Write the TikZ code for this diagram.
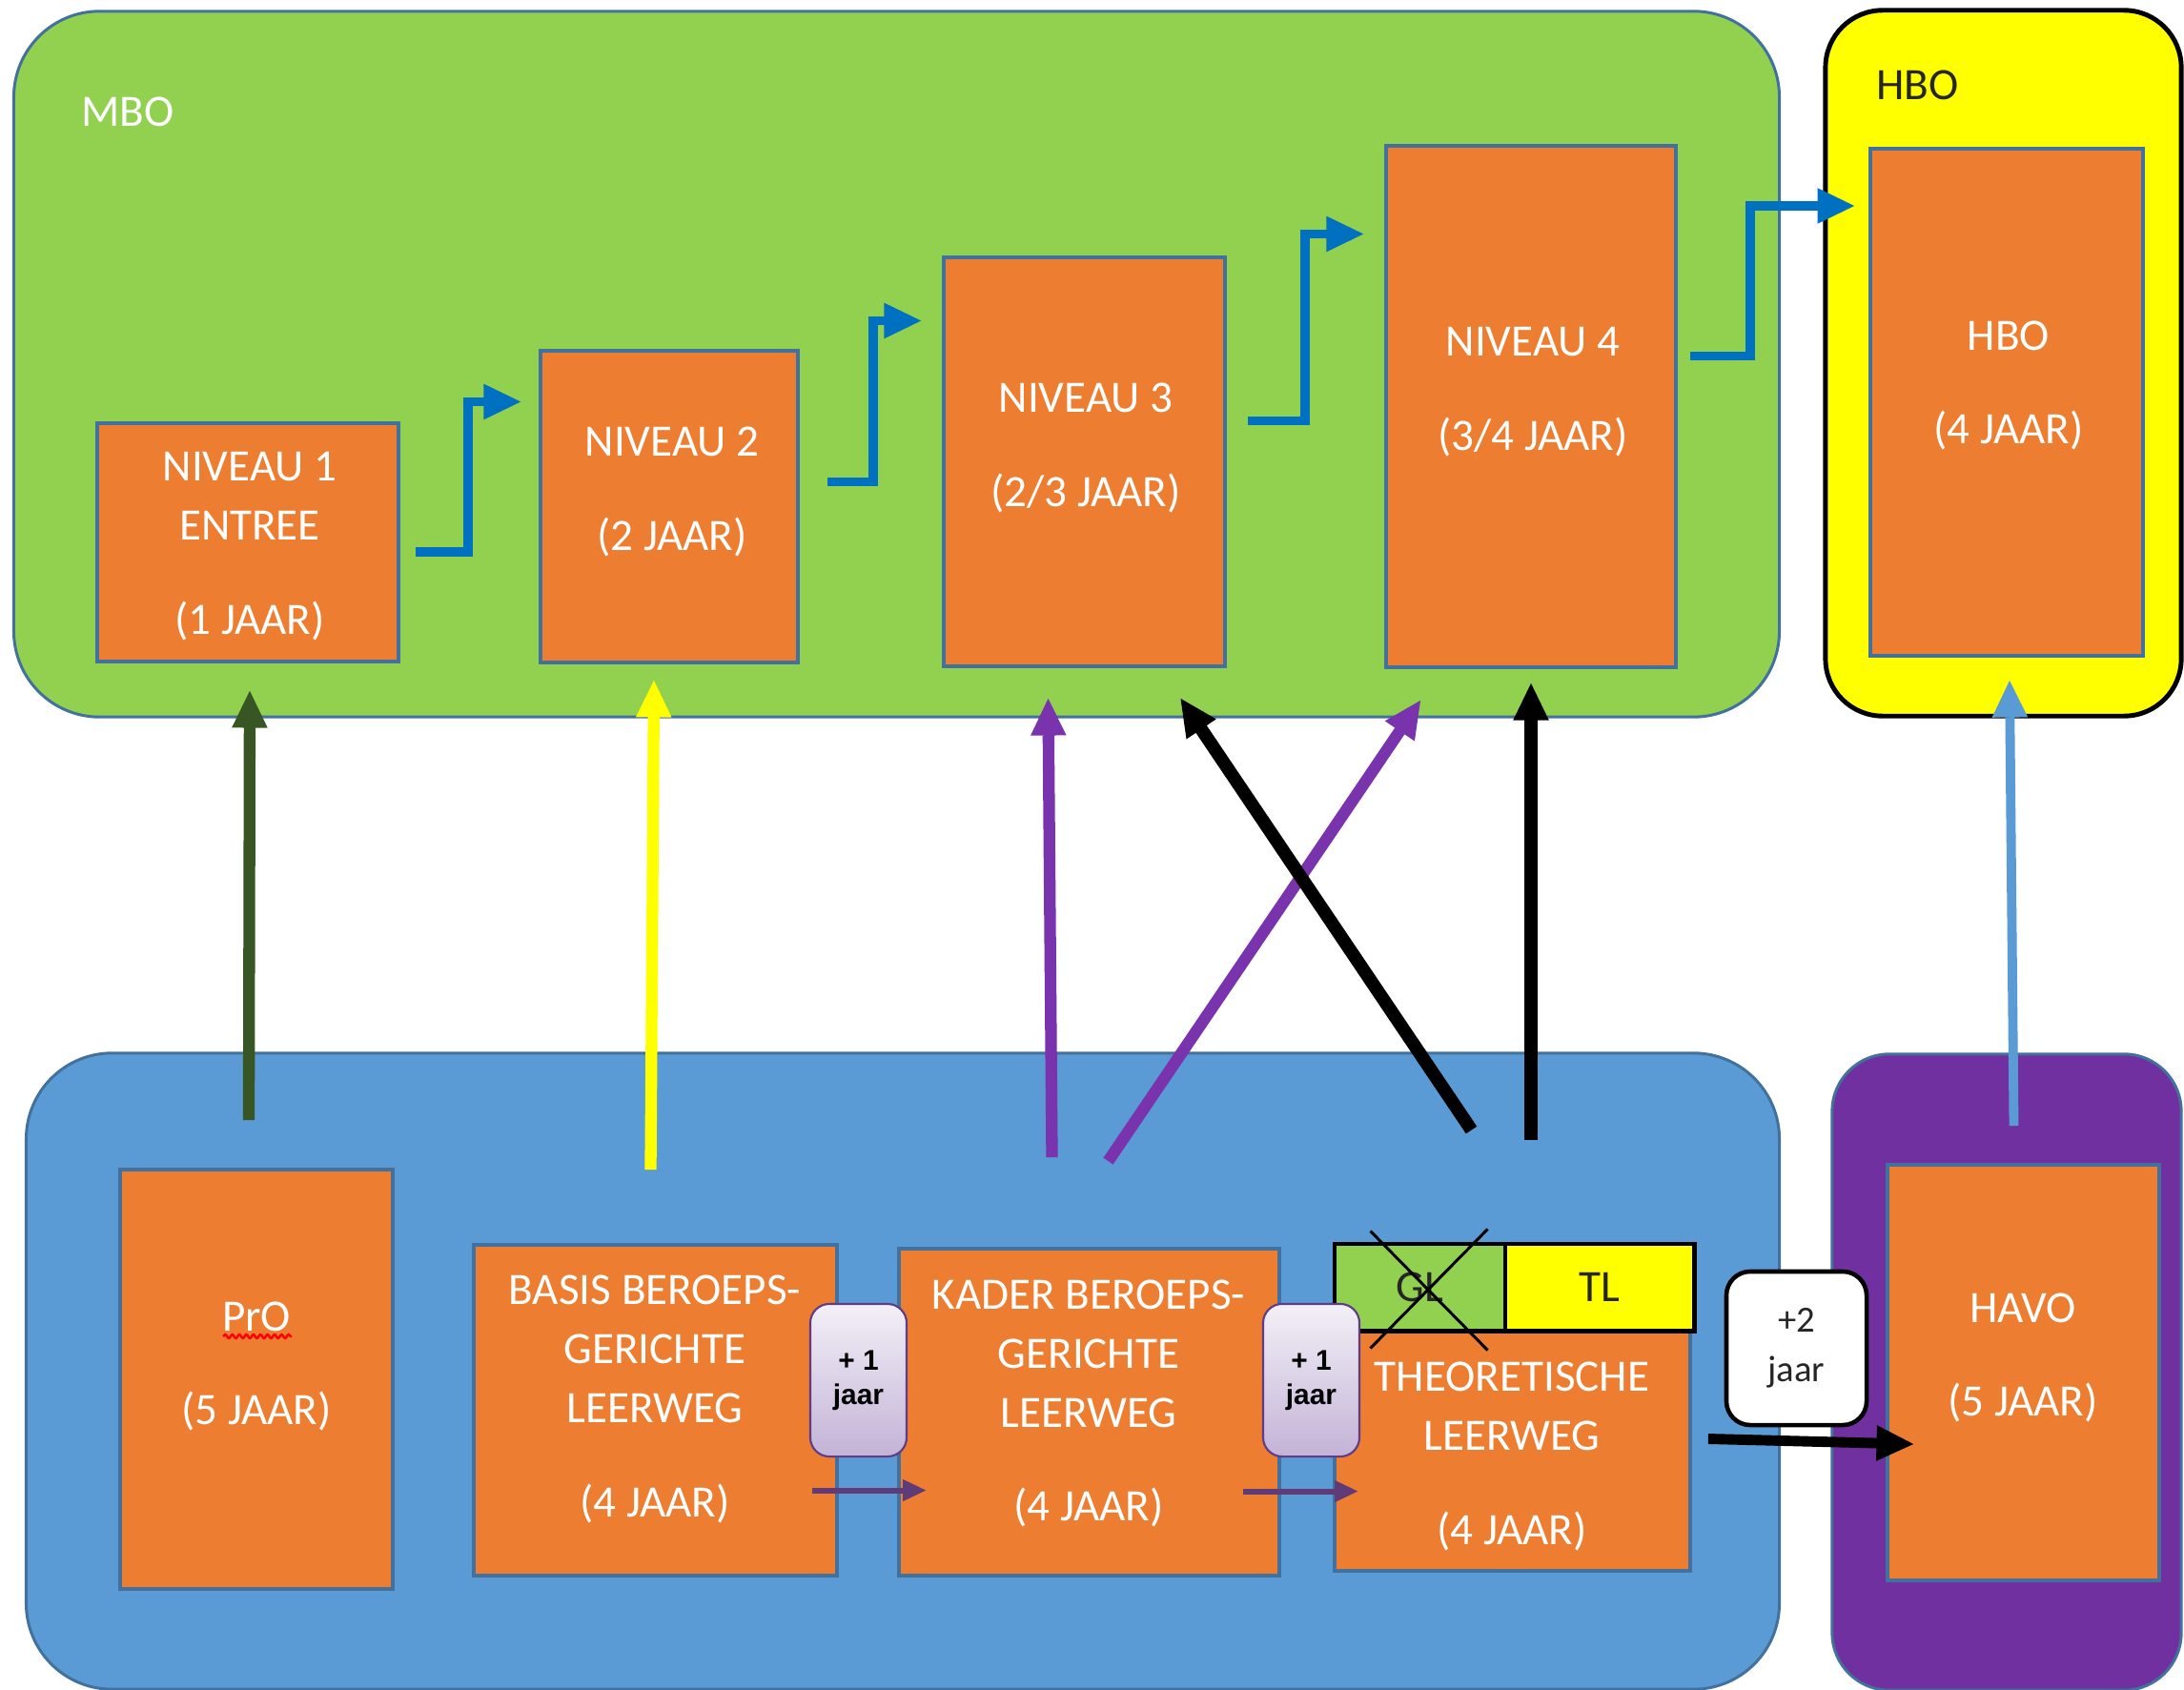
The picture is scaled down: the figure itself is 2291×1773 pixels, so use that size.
\documentclass[tikz,border=0pt]{standalone}
\usepackage{fontspec}
\setmainfont{Carlito}
\newfontfamily\arialfont{Liberation Sans}
\usetikzlibrary{arrows.meta, positioning, calc, decorations.pathmorphing}

\definecolor{mbogreen}{HTML}{92D050}
\definecolor{vmboblue}{HTML}{5B9BD5}
\definecolor{edgeblue}{HTML}{41719C}
\definecolor{boxorange}{HTML}{ED7D31}
\definecolor{hboyellow}{HTML}{FFFF00}
\definecolor{havopurple}{HTML}{7030A0}
\definecolor{stairblue}{HTML}{0070C0}
\definecolor{darkgreen}{HTML}{375623}
\definecolor{linkpurple}{HTML}{7833AD}
\definecolor{extrapurple}{HTML}{5F3B78}
\definecolor{tagtop}{HTML}{F3F0F7}
\definecolor{tagbottom}{HTML}{C3B3D7}
\definecolor{tagedge}{HTML}{5F3B88}
\definecolor{darktext}{HTML}{262626}

\tikzset{
    schooldiagram/.style={x=0.01cm, y=-0.01cm, font=\fontsize{13.4}{17.6}\selectfont},
    region/.style={draw=edgeblue, line width=0.85pt, rounded corners=0.9cm, inner sep=0pt},
    level/.style={draw=edgeblue, fill=boxorange, line width=1pt, inner sep=0pt},
    leveltext/.style={text=white, align=center, inner sep=0pt},
    tag/.style={inner sep=0pt, text=white},
    track/.style={draw=black, line width=1.4pt, inner sep=0pt, text=darktext},
    yearbox/.style={draw=tagedge, line width=0.6pt, rounded corners=0.2cm, top color=tagtop,
        bottom color=tagbottom, align=center, inner sep=0pt,
        font=\arialfont\bfseries\fontsize{8.5}{10.2}\selectfont},
    twoyear/.style={draw=black, fill=white, line width=1.3pt, rounded corners=0.25cm, align=center,
        inner sep=0pt, text=darktext, font=\fontsize{11}{14.7}\selectfont},
    % big arrow heads shared by all connectors between the two rows
    upto/.style={-{Triangle[length=11pt, width=10.6pt, line width=0.4pt]}},
    riser/.style={upto, line width=3.5pt},
    stair/.style={upto, draw=stairblue, line width=2.8pt},
    extra/.style={-{Triangle[length=6.8pt, width=6.5pt, line width=0.3pt]}, draw=extrapurple, line width=1.7pt},
    cross/.style={draw=black, line width=0.85pt},
    squiggle/.style={draw=red, line width=0.7pt, decorate,
        decoration={snake, amplitude=0.55pt, segment length=2.1pt}},
}

\begin{document}
\begin{tikzpicture}[schooldiagram]
    \useasboundingbox (0,0) rectangle (2291,1773);

    \node[region, fill=mbogreen, minimum width=18.51cm, minimum height=7.40cm] (mbo) at (940.5,382) {};
    \node[region, fill=hboyellow, draw=black, line width=1.4pt, rounded corners=0.6cm,
        minimum width=3.73cm, minimum height=7.40cm] (hbo) at (2101.5,381) {};
    \node[region, fill=vmboblue, minimum width=18.38cm, minimum height=6.67cm] (vmbo) at (947,1438.5) {};
    \node[region, fill=havopurple, rounded corners=0.6cm, minimum width=3.66cm,
        minimum height=6.67cm] (havo) at (2105,1439.5) {};

    \node[tag] (mbolabel) at (134,117.5) {MBO};
    \node[tag, text=darktext] (hbolabel) at (2011.5,89) {HBO};

    \node[level, minimum width=3.16cm, minimum height=2.50cm] (niv1) at (260,569) {};
    \node[level, minimum width=2.70cm, minimum height=3.27cm] (niv2) at (702,531.5) {};
    \node[level, minimum width=2.95cm, minimum height=4.29cm] (niv3) at (1137.5,484.5) {};
    \node[level, minimum width=3.04cm, minimum height=5.47cm] (niv4) at (1606,426.5) {};
    \node[level, minimum width=2.86cm, minimum height=5.32cm] (hbobox) at (2105,422) {};

    \node[level, minimum width=2.86cm, minimum height=4.40cm] (pro) at (269,1447) {};
    \node[level, minimum width=3.81cm, minimum height=3.47cm] (basis) at (687.5,1479.5) {};
    \node[level, minimum width=3.99cm, minimum height=3.43cm] (kader) at (1142.5,1481.5) {};
    \node[level, minimum width=3.73cm, minimum height=2.51cm] (theor) at (1586.5,1522.5) {};
    \node[level, minimum width=2.85cm, minimum height=4.36cm] (havobox) at (2122.5,1440) {};

    \node[track, fill=mbogreen, minimum width=1.79cm, minimum height=0.91cm] (gl) at (1489.5,1350.5) {GL};
    \node[track, fill=hboyellow, minimum width=1.98cm, minimum height=0.91cm] (tl) at (1678,1350.5) {TL};

    \node[leveltext] (niv1txt) at (262,573) {NIVEAU 1\\ENTREE\\[10.5pt](1 JAAR)};
    \node[leveltext] (niv2txt) at (705,516) {NIVEAU 2\\[10.5pt](2 JAAR)};
    \node[leveltext] (niv3txt) at (1139,470) {NIVEAU 3\\[10.5pt](2/3 JAAR)};
    \node[leveltext] (niv4txt) at (1608,411.5) {NIVEAU 4\\[10.5pt](3/4 JAAR)};
    \node[leveltext] (hbotxt) at (2107,404.5) {HBO\\[10.5pt](4 JAAR)};
    \node[leveltext] (protxt) at (269,1433.5) {PrO\\[10.5pt](5 JAAR)};
    \node[leveltext] (basistxt) at (687,1468) {BASIS BEROEPS-\\GERICHTE\\LEERWEG\\[10.5pt](4 JAAR)};
    \node[leveltext] (kadertxt) at (1142,1472.5) {KADER BEROEPS-\\GERICHTE\\LEERWEG\\[10.5pt](4 JAAR)};
    \node[leveltext] (theortxt) at (1586,1528) {THEORETISCHE\\LEERWEG\\[10.5pt](4 JAAR)};
    \node[leveltext] (havotxt) at (2122,1424.5) {HAVO\\[10.5pt](5 JAAR)};

    \draw[squiggle] (234,1402) -- (306,1402);
    \draw[cross] ([shift={(-52,-59)}]gl.center) -- ([shift={(71,66)}]gl.center);
    \draw[cross] ([shift={(71,-61)}]gl.center) -- ([shift={(-52,64)}]gl.center);

    \draw[stair] ([shift={(16,10)}]niv1.east) -| ([shift={(-74,-110)}]niv2.west) -- ([shift={(-19,-110)}]niv2.west);
    \draw[stair] ([shift={(29,-26)}]niv2.east) -| ([shift={(-72,-148)}]niv3.west) -- ([shift={(-22,-148)}]niv3.west);
    \draw[stair] ([shift={(22,-43)}]niv3.east) -| ([shift={(-83,-181)}]niv4.west) -- ([shift={(-22,-181)}]niv4.west);
    \draw[stair] ([shift={(13,-53)}]niv4.east) -| ([shift={(-124,-206)}]hbobox.west) -- ([shift={(-15,-206)}]hbobox.west);

    \draw[riser, draw=darkgreen] ([shift={(-8,-50)}]pro.north) -- ([shift={(2,29)}]niv1.south);
    \draw[riser, draw=hboyellow] ([shift={(-5,-77)}]basis.north) -- ([shift={(-16,17)}]niv2.south);
    \draw[riser, draw=linkpurple] ([shift={(-39,-94)}]kader.north) -- ([shift={(-38,32)}]niv3.south);
    \draw[riser, draw=linkpurple] ([shift={(20,-90)}]kader.north) -- ([shift={(-116,33)}]niv4.south);
    \draw[riser, draw=black, line width=3.9pt] ([shift={(54,-117)}]gl.north) -- ([shift={(101,32)}]niv3.south);
    \draw[riser, draw=black, line width=3.9pt] ([shift={(-72,-107)}]tl.north) -- ([shift={(0,15)}]niv4.south);
    \draw[riser, draw=vmboblue, line width=2.8pt] ([shift={(-10,-39)}]havobox.north) -- ([shift={(3,24)}]hbobox.south);

    \node[yearbox, minimum width=1.01cm, minimum height=1.60cm] (plusa) at (900.5,1448) {+ 1\\jaar};
    \node[yearbox, minimum width=1.01cm, minimum height=1.60cm] (plusb) at (1375.5,1448) {+ 1\\jaar};
    \node[twoyear, minimum width=1.47cm, minimum height=1.61cm] (plustwo) at (1884.5,1414.5) {+2\\jaar};

    \draw[extra] ([shift={(-28,84)}]basis.east) -- ([shift={(30,82)}]kader.west);
    \draw[extra] ([shift={(-40,83)}]kader.east) -- ([shift={(26,42)}]theor.west);
    \draw[upto, draw=black, line width=3.1pt] ([shift={(17,-13)}]theor.east) -- ([shift={(29,75)}]havobox.west);
\end{tikzpicture}
\end{document}
